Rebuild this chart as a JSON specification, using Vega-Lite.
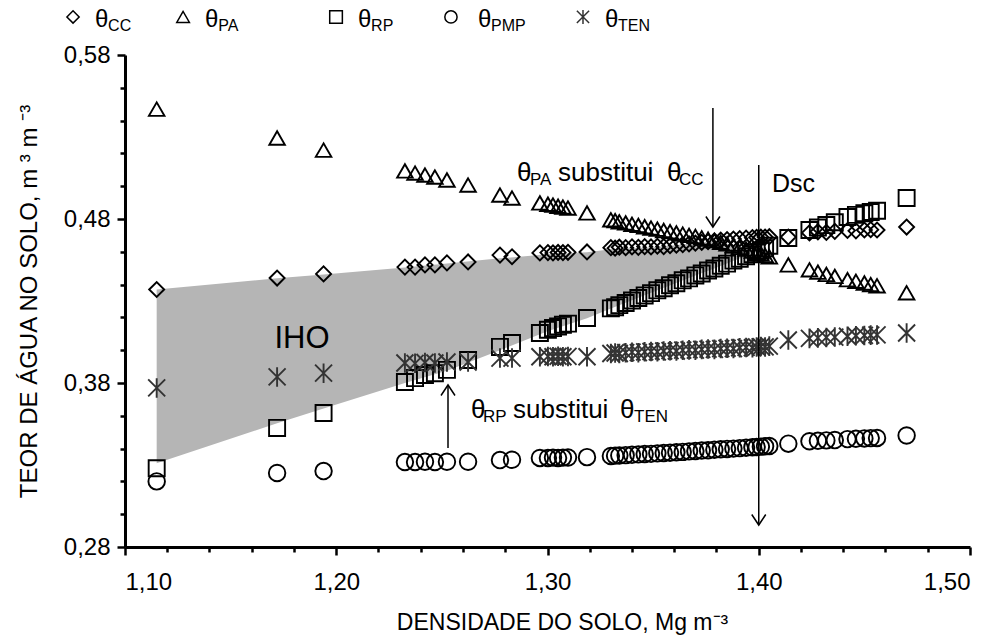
{
  "$schema": "https://vega.github.io/schema/vega-lite/v6.json",
  "autosize": {"type": "none"},
  "width": 845,
  "height": 492,
  "padding": {"left": 125, "top": 55, "right": 30, "bottom": 93},
  "background": "white",
  "resolve": {"axis": {"y": "independent"}},
  "config": {
    "view": {"stroke": null},
    "font": "Liberation Sans",
    "text": {"font": "Liberation Sans", "color": "black"},
    "axis": {
      "domainColor": "black", "domainWidth": 3, "tickColor": "black", "tickWidth": 2.5,
      "labelFont": "Liberation Sans", "labelFontSize": 24, "labelColor": "black", "labelOverlap": false,
      "titleFont": "Liberation Sans", "titleFontSize": 23, "titleFontWeight": "normal", "titleColor": "black",
      "grid": false
    }
  },
  "datasets": {
    "one": [{}],
    "solo": [
      {"d": 1.115, "cc": 0.437, "pa": 0.547, "rp": 0.328, "pmp": 0.320, "ten": 0.377},
      {"d": 1.172, "cc": 0.444, "pa": 0.5294, "rp": 0.3526, "pmp": 0.3251, "ten": 0.3837},
      {"d": 1.194, "cc": 0.4465, "pa": 0.522, "rp": 0.3617, "pmp": 0.3263, "ten": 0.386},
      {"d": 1.2325, "cc": 0.4507, "pa": 0.5093, "rp": 0.3806, "pmp": 0.3318, "ten": 0.3922},
      {"d": 1.2373, "cc": 0.4507, "pa": 0.508, "rp": 0.383, "pmp": 0.3318, "ten": 0.392},
      {"d": 1.242, "cc": 0.452, "pa": 0.5068, "rp": 0.3849, "pmp": 0.332, "ten": 0.3925},
      {"d": 1.2467, "cc": 0.452, "pa": 0.5056, "rp": 0.386, "pmp": 0.3318, "ten": 0.3922},
      {"d": 1.2524, "cc": 0.4532, "pa": 0.5038, "rp": 0.388, "pmp": 0.332, "ten": 0.3928},
      {"d": 1.2624, "cc": 0.4538, "pa": 0.5007, "rp": 0.394, "pmp": 0.332, "ten": 0.3928},
      {"d": 1.2775, "cc": 0.458, "pa": 0.4946, "rp": 0.402, "pmp": 0.333, "ten": 0.3952},
      {"d": 1.2832, "cc": 0.457, "pa": 0.4928, "rp": 0.4044, "pmp": 0.3332, "ten": 0.3952},
      {"d": 1.2964, "cc": 0.4593, "pa": 0.4898, "rp": 0.4105, "pmp": 0.3343, "ten": 0.396},
      {"d": 1.3002, "cc": 0.4595, "pa": 0.489, "rp": 0.4125, "pmp": 0.3343, "ten": 0.3962},
      {"d": 1.3026, "cc": 0.4593, "pa": 0.4885, "rp": 0.4135, "pmp": 0.3345, "ten": 0.396},
      {"d": 1.305, "cc": 0.4596, "pa": 0.4878, "rp": 0.4145, "pmp": 0.3343, "ten": 0.3963},
      {"d": 1.3073, "cc": 0.4595, "pa": 0.4873, "rp": 0.4155, "pmp": 0.3345, "ten": 0.396},
      {"d": 1.3097, "cc": 0.4597, "pa": 0.4867, "rp": 0.4162, "pmp": 0.3346, "ten": 0.3962},
      {"d": 1.3187, "cc": 0.4599, "pa": 0.4837, "rp": 0.4196, "pmp": 0.3348, "ten": 0.396},
      {"d": 1.330, "cc": 0.4625, "pa": 0.4795, "rp": 0.4255, "pmp": 0.3355, "ten": 0.398},
      {"d": 1.332, "cc": 0.4622, "pa": 0.479, "rp": 0.4262, "pmp": 0.3357, "ten": 0.3983},
      {"d": 1.334, "cc": 0.4628, "pa": 0.4783, "rp": 0.4275, "pmp": 0.3358, "ten": 0.398},
      {"d": 1.337, "cc": 0.4625, "pa": 0.4776, "rp": 0.4288, "pmp": 0.336, "ten": 0.3985},
      {"d": 1.340, "cc": 0.463, "pa": 0.4768, "rp": 0.4303, "pmp": 0.3362, "ten": 0.3988},
      {"d": 1.343, "cc": 0.4627, "pa": 0.4761, "rp": 0.4318, "pmp": 0.3365, "ten": 0.3985},
      {"d": 1.346, "cc": 0.4632, "pa": 0.4753, "rp": 0.4334, "pmp": 0.3367, "ten": 0.399},
      {"d": 1.349, "cc": 0.463, "pa": 0.4745, "rp": 0.4348, "pmp": 0.3368, "ten": 0.3992},
      {"d": 1.352, "cc": 0.4634, "pa": 0.4738, "rp": 0.4365, "pmp": 0.3371, "ten": 0.399},
      {"d": 1.355, "cc": 0.4632, "pa": 0.473, "rp": 0.4378, "pmp": 0.3373, "ten": 0.3995},
      {"d": 1.358, "cc": 0.4637, "pa": 0.4723, "rp": 0.4396, "pmp": 0.3375, "ten": 0.3997},
      {"d": 1.361, "cc": 0.464, "pa": 0.4715, "rp": 0.4408, "pmp": 0.3378, "ten": 0.3995},
      {"d": 1.364, "cc": 0.4644, "pa": 0.4708, "rp": 0.4426, "pmp": 0.338, "ten": 0.4},
      {"d": 1.367, "cc": 0.4648, "pa": 0.47, "rp": 0.4438, "pmp": 0.3383, "ten": 0.4002},
      {"d": 1.370, "cc": 0.4653, "pa": 0.4694, "rp": 0.4456, "pmp": 0.3385, "ten": 0.4},
      {"d": 1.373, "cc": 0.4658, "pa": 0.4685, "rp": 0.4468, "pmp": 0.3388, "ten": 0.4005},
      {"d": 1.376, "cc": 0.4662, "pa": 0.4677, "rp": 0.4486, "pmp": 0.339, "ten": 0.4007},
      {"d": 1.379, "cc": 0.4667, "pa": 0.4668, "rp": 0.4498, "pmp": 0.3393, "ten": 0.4005},
      {"d": 1.382, "cc": 0.4671, "pa": 0.4658, "rp": 0.4515, "pmp": 0.3396, "ten": 0.401},
      {"d": 1.385, "cc": 0.4674, "pa": 0.4648, "rp": 0.4528, "pmp": 0.3398, "ten": 0.4012},
      {"d": 1.388, "cc": 0.4678, "pa": 0.4638, "rp": 0.4546, "pmp": 0.34, "ten": 0.401},
      {"d": 1.391, "cc": 0.468, "pa": 0.4627, "rp": 0.4558, "pmp": 0.3403, "ten": 0.4015},
      {"d": 1.394, "cc": 0.4683, "pa": 0.4616, "rp": 0.4573, "pmp": 0.3405, "ten": 0.4017},
      {"d": 1.397, "cc": 0.4686, "pa": 0.4605, "rp": 0.4585, "pmp": 0.3408, "ten": 0.4015},
      {"d": 1.399, "cc": 0.4688, "pa": 0.4597, "rp": 0.4596, "pmp": 0.341, "ten": 0.402},
      {"d": 1.401, "cc": 0.4689, "pa": 0.4588, "rp": 0.4608, "pmp": 0.3412, "ten": 0.4022},
      {"d": 1.403, "cc": 0.469, "pa": 0.4578, "rp": 0.4622, "pmp": 0.3414, "ten": 0.402},
      {"d": 1.405, "cc": 0.4692, "pa": 0.4569, "rp": 0.4637, "pmp": 0.3416, "ten": 0.4025},
      {"d": 1.414, "cc": 0.469, "pa": 0.452, "rp": 0.4684, "pmp": 0.343, "ten": 0.4062},
      {"d": 1.424, "cc": 0.4715, "pa": 0.449, "rp": 0.4733, "pmp": 0.3445, "ten": 0.4072},
      {"d": 1.428, "cc": 0.4722, "pa": 0.4476, "rp": 0.4748, "pmp": 0.3448, "ten": 0.4075},
      {"d": 1.432, "cc": 0.4718, "pa": 0.4462, "rp": 0.4763, "pmp": 0.345, "ten": 0.4078},
      {"d": 1.436, "cc": 0.4725, "pa": 0.445, "rp": 0.478, "pmp": 0.3452, "ten": 0.408},
      {"d": 1.442, "cc": 0.473, "pa": 0.443, "rp": 0.4812, "pmp": 0.3458, "ten": 0.4085},
      {"d": 1.446, "cc": 0.4728, "pa": 0.442, "rp": 0.4825, "pmp": 0.346, "ten": 0.4088},
      {"d": 1.450, "cc": 0.4733, "pa": 0.441, "rp": 0.4835, "pmp": 0.3462, "ten": 0.409},
      {"d": 1.453, "cc": 0.4735, "pa": 0.44, "rp": 0.4843, "pmp": 0.3464, "ten": 0.4092},
      {"d": 1.456, "cc": 0.4733, "pa": 0.4393, "rp": 0.485, "pmp": 0.3465, "ten": 0.4093},
      {"d": 1.470, "cc": 0.4751, "pa": 0.435, "rp": 0.4928, "pmp": 0.348, "ten": 0.4105}
    ],
    "iho": [
      {"d": 1.115, "lo": 0.331, "hi": 0.437},
      {"d": 1.172, "lo": 0.3555, "hi": 0.4438},
      {"d": 1.194, "lo": 0.3645, "hi": 0.4462},
      {"d": 1.2325, "lo": 0.38, "hi": 0.4505},
      {"d": 1.2524, "lo": 0.3875, "hi": 0.4528},
      {"d": 1.2775, "lo": 0.4, "hi": 0.456},
      {"d": 1.30, "lo": 0.4115, "hi": 0.4585},
      {"d": 1.3187, "lo": 0.4195, "hi": 0.4598},
      {"d": 1.33, "lo": 0.4255, "hi": 0.4615},
      {"d": 1.35, "lo": 0.4355, "hi": 0.4628},
      {"d": 1.37, "lo": 0.4456, "hi": 0.4652},
      {"d": 1.379, "lo": 0.4498, "hi": 0.4667},
      {"d": 1.39, "lo": 0.4554, "hi": 0.4631},
      {"d": 1.40, "lo": 0.4602, "hi": 0.4602}
    ]
  },
  "layer": [
    {
      "data": {"name": "iho"},
      "mark": {"type": "area", "color": "#b5b5b5", "opacity": 1},
      "encoding": {
        "x": {"field": "d", "type": "quantitative",
          "scale": {"domain": [1.1, 1.5], "nice": false, "zero": false},
          "axis": {
            "values": [1.1,1.12,1.14,1.16,1.18,1.2,1.22,1.24,1.26,1.28,1.3,1.32,1.34,1.36,1.38,1.4,1.42,1.44,1.46,1.48,1.5],
            "labelExpr": "round(datum.value*100) % 10 == 0 ? replace(format(datum.value, '.2f'), '.', ',') : ''",
            "tickSize": {"condition": {"test": "round(datum.value*100) % 10 == 0", "value": 8}, "value": 5},
            "labelOverlap": false,
            "labelPadding": 15,
            "title": "DENSIDADE DO SOLO, Mg m⁻³",
            "titlePadding": 17,
            "titleX": 437
          }},
        "y": {"field": "hi", "type": "quantitative",
          "scale": {"domain": [0.28, 0.58], "nice": false, "zero": false},
          "axis": {
            "orient": "left",
            "values": [0.28, 0.38, 0.48, 0.58],
            "labelExpr": "replace(format(datum.value, '.2f'), '.', ',')",
            "tickSize": 8,
            "labelOverlap": false,
            "labelBound": false,
            "labelPadding": 7,
            "title": "TEOR DE ÁGUA NO SOLO, m ³  m ⁻³",
            "titleFontSize": 24,
            "titlePadding": 22
          }},
        "y2": {"field": "lo"}
      }
    },
    {
      "data": {"name": "solo"},
      "transform": [{"fold": ["cc", "pa", "rp", "pmp", "ten"], "as": ["serie", "v"]}],
      "mark": {"type": "point", "filled": false, "strokeWidth": 1.9, "opacity": 1},
      "encoding": {
        "x": {"field": "d", "type": "quantitative"},
        "y": {"field": "v", "type": "quantitative",
          "axis": {
            "orient": "left",
            "values": [0.3,0.32,0.34,0.36,0.4,0.42,0.44,0.46,0.5,0.52,0.54,0.56],
            "labels": false,
            "domain": false,
            "tickSize": 5,
            "title": null
          }},
        "shape": {"field": "serie", "type": "nominal", "legend": null,
          "scale": {"domain": ["cc", "pa", "rp", "pmp", "ten"],
            "range": ["diamond", "triangle-up", "square", "circle", "M-1,-1L1,1M-1,1L1,-1M0,-1.15L0,1.15"]}},
        "color": {"field": "serie", "type": "nominal", "legend": null,
          "scale": {"domain": ["cc", "pa", "rp", "pmp", "ten"], "range": ["#000000", "#000000", "#000000", "#000000", "#333333"]}},
        "size": {"field": "serie", "type": "nominal", "legend": null,
          "scale": {"domain": ["cc", "pa", "rp", "pmp", "ten"], "range": [225, 289, 225, 225, 210]}}
      }
    },
    {
      "data": {"name": "one"},
      "mark": {"type": "text", "fontSize": 31, "align": "center", "baseline": "alphabetic"},
      "encoding": {"x": {"datum": 1.1838}, "y": {"datum": 0.4013, "axis": null}, "text": {"value": "IHO"}}
    },
    {
      "data": {"name": "one"},
      "mark": {"type": "rule", "color": "black", "strokeWidth": 1.5},
      "encoding": {"x": {"datum": 1.3783}, "y": {"datum": 0.5477, "axis": null}, "y2": {"datum": 0.4751}}
    },
    {
      "data": {"name": "one"},
      "mark": {"type": "point", "shape": "M-1,-1.5L0,0L1,-1.5", "size": 196, "filled": false, "color": "black", "strokeWidth": 1.5, "opacity": 1},
      "encoding": {"x": {"datum": 1.3783}, "y": {"datum": 0.4751, "axis": null}}
    },
    {
      "data": {"name": "one"},
      "mark": {"type": "rule", "color": "black", "strokeWidth": 1.5},
      "encoding": {"x": {"datum": 1.4}, "y": {"datum": 0.5129, "axis": null}, "y2": {"datum": 0.2934}}
    },
    {
      "data": {"name": "one"},
      "mark": {"type": "point", "shape": "M-1,-1.5L0,0L1,-1.5", "size": 196, "filled": false, "color": "black", "strokeWidth": 1.5, "opacity": 1},
      "encoding": {"x": {"datum": 1.4}, "y": {"datum": 0.2934, "axis": null}}
    },
    {
      "data": {"name": "one"},
      "mark": {"type": "rule", "color": "black", "strokeWidth": 1.5},
      "encoding": {"x": {"datum": 1.2529}, "y": {"datum": 0.3404, "axis": null}, "y2": {"datum": 0.3788}}
    },
    {
      "data": {"name": "one"},
      "mark": {"type": "point", "shape": "M-1,1.5L0,0L1,1.5", "size": 196, "filled": false, "color": "black", "strokeWidth": 1.5, "opacity": 1},
      "encoding": {"x": {"datum": 1.2529}, "y": {"datum": 0.3788, "axis": null}}
    },
    {
      "data": {"name": "one"},
      "mark": {"type": "text", "fontSize": 25, "align": "left", "baseline": "alphabetic"},
      "encoding": {"x": {"datum": 1.4063}, "y": {"datum": 0.4965, "axis": null}, "text": {"value": "Dsc"}}
    },
    {
      "data": {"name": "one"},
      "mark": {"type": "text", "fontSize": 26, "align": "left", "baseline": "alphabetic"},
      "encoding": {"x": {"datum": 1.28556}, "y": {"datum": 0.50317, "axis": null}, "text": {"value": "θ"}}
    },
    {
      "data": {"name": "one"},
      "mark": {"type": "text", "fontSize": 17, "align": "left", "baseline": "alphabetic"},
      "encoding": {"x": {"datum": 1.29172}, "y": {"datum": 0.50073, "axis": null}, "text": {"value": "PA"}}
    },
    {
      "data": {"name": "one"},
      "mark": {"type": "text", "fontSize": 26, "align": "left", "baseline": "alphabetic"},
      "encoding": {"x": {"datum": 1.30497}, "y": {"datum": 0.50317, "axis": null}, "text": {"value": "substitui"}}
    },
    {
      "data": {"name": "one"},
      "mark": {"type": "text", "fontSize": 26, "align": "left", "baseline": "alphabetic"},
      "encoding": {"x": {"datum": 1.35657}, "y": {"datum": 0.50317, "axis": null}, "text": {"value": "θ"}}
    },
    {
      "data": {"name": "one"},
      "mark": {"type": "text", "fontSize": 17, "align": "left", "baseline": "alphabetic"},
      "encoding": {"x": {"datum": 1.36225}, "y": {"datum": 0.50073, "axis": null}, "text": {"value": "CC"}}
    },
    {
      "data": {"name": "one"},
      "mark": {"type": "text", "fontSize": 26, "align": "left", "baseline": "alphabetic"},
      "encoding": {"x": {"datum": 1.26379}, "y": {"datum": 0.35866, "axis": null}, "text": {"value": "θ"}}
    },
    {
      "data": {"name": "one"},
      "mark": {"type": "text", "fontSize": 17, "align": "left", "baseline": "alphabetic"},
      "encoding": {"x": {"datum": 1.26947}, "y": {"datum": 0.35622, "axis": null}, "text": {"value": "RP"}}
    },
    {
      "data": {"name": "one"},
      "mark": {"type": "text", "fontSize": 26, "align": "left", "baseline": "alphabetic"},
      "encoding": {"x": {"datum": 1.28367}, "y": {"datum": 0.35866, "axis": null}, "text": {"value": "substitui"}}
    },
    {
      "data": {"name": "one"},
      "mark": {"type": "text", "fontSize": 26, "align": "left", "baseline": "alphabetic"},
      "encoding": {"x": {"datum": 1.33432}, "y": {"datum": 0.35866, "axis": null}, "text": {"value": "θ"}}
    },
    {
      "data": {"name": "one"},
      "mark": {"type": "text", "fontSize": 17, "align": "left", "baseline": "alphabetic"},
      "encoding": {"x": {"datum": 1.34095}, "y": {"datum": 0.35622, "axis": null}, "text": {"value": "TEN"}}
    },
    {
      "data": {"name": "one"},
      "mark": {"type": "point", "shape": "diamond", "size": 150, "filled": false, "color": "black", "strokeWidth": 1.5, "opacity": 1},
      "encoding": {"x": {"datum": 1.0754}, "y": {"datum": 0.6032, "axis": null}}
    },
    {
      "data": {"name": "one"},
      "mark": {"type": "point", "shape": "triangle-up", "size": 160, "filled": false, "color": "black", "strokeWidth": 1.5, "opacity": 1},
      "encoding": {"x": {"datum": 1.1275}, "y": {"datum": 0.6032, "axis": null}}
    },
    {
      "data": {"name": "one"},
      "mark": {"type": "point", "shape": "square", "size": 160, "filled": false, "color": "black", "strokeWidth": 1.5, "opacity": 1},
      "encoding": {"x": {"datum": 1.1999}, "y": {"datum": 0.6032, "axis": null}}
    },
    {
      "data": {"name": "one"},
      "mark": {"type": "point", "shape": "circle", "size": 150, "filled": false, "color": "black", "strokeWidth": 1.5, "opacity": 1},
      "encoding": {"x": {"datum": 1.2543}, "y": {"datum": 0.6032, "axis": null}}
    },
    {
      "data": {"name": "one"},
      "mark": {"type": "point", "shape": "M-1,-1L1,1M-1,1L1,-1M0,-1.15L0,1.15", "size": 150, "filled": false, "color": "#333333", "strokeWidth": 1.5, "opacity": 1},
      "encoding": {"x": {"datum": 1.3168}, "y": {"datum": 0.6032, "axis": null}}
    },
    {
      "data": {"name": "one"},
      "mark": {"type": "text", "fontSize": 24, "align": "left", "baseline": "alphabetic"},
      "encoding": {"x": {"datum": 1.0858}, "y": {"datum": 0.597, "axis": null}, "text": {"value": "θ"}}
    },
    {
      "data": {"name": "one"},
      "mark": {"type": "text", "fontSize": 16, "align": "left", "baseline": "alphabetic"},
      "encoding": {"x": {"datum": 1.0920}, "y": {"datum": 0.5948, "axis": null}, "text": {"value": "CC"}}
    },
    {
      "data": {"name": "one"},
      "mark": {"type": "text", "fontSize": 24, "align": "left", "baseline": "alphabetic"},
      "encoding": {"x": {"datum": 1.1379}, "y": {"datum": 0.597, "axis": null}, "text": {"value": "θ"}}
    },
    {
      "data": {"name": "one"},
      "mark": {"type": "text", "fontSize": 16, "align": "left", "baseline": "alphabetic"},
      "encoding": {"x": {"datum": 1.1441}, "y": {"datum": 0.5948, "axis": null}, "text": {"value": "PA"}}
    },
    {
      "data": {"name": "one"},
      "mark": {"type": "text", "fontSize": 24, "align": "left", "baseline": "alphabetic"},
      "encoding": {"x": {"datum": 1.2103}, "y": {"datum": 0.597, "axis": null}, "text": {"value": "θ"}}
    },
    {
      "data": {"name": "one"},
      "mark": {"type": "text", "fontSize": 16, "align": "left", "baseline": "alphabetic"},
      "encoding": {"x": {"datum": 1.2165}, "y": {"datum": 0.5948, "axis": null}, "text": {"value": "RP"}}
    },
    {
      "data": {"name": "one"},
      "mark": {"type": "text", "fontSize": 24, "align": "left", "baseline": "alphabetic"},
      "encoding": {"x": {"datum": 1.2671}, "y": {"datum": 0.597, "axis": null}, "text": {"value": "θ"}}
    },
    {
      "data": {"name": "one"},
      "mark": {"type": "text", "fontSize": 16, "align": "left", "baseline": "alphabetic"},
      "encoding": {"x": {"datum": 1.2733}, "y": {"datum": 0.5948, "axis": null}, "text": {"value": "PMP"}}
    },
    {
      "data": {"name": "one"},
      "mark": {"type": "text", "fontSize": 24, "align": "left", "baseline": "alphabetic"},
      "encoding": {"x": {"datum": 1.3272}, "y": {"datum": 0.597, "axis": null}, "text": {"value": "θ"}}
    },
    {
      "data": {"name": "one"},
      "mark": {"type": "text", "fontSize": 16, "align": "left", "baseline": "alphabetic"},
      "encoding": {"x": {"datum": 1.3334}, "y": {"datum": 0.5948, "axis": null}, "text": {"value": "TEN"}}
    }
  ]
}
